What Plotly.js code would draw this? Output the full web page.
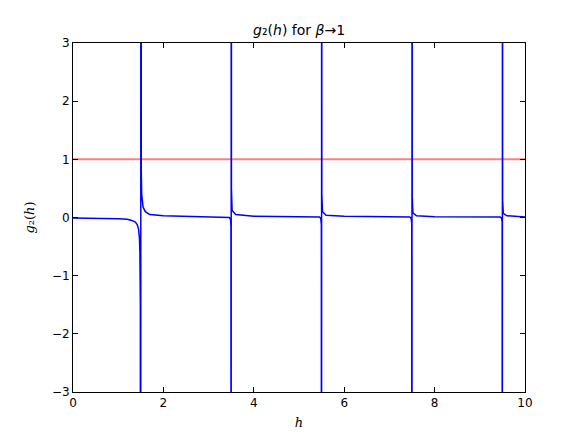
<!DOCTYPE html>
<html>
<head>
<meta charset="utf-8">
<script src="https://cdn.plot.ly/plotly-3.0.1.min.js"></script>
<style>
  body { margin: 0; background: #fff; }
  #plot { width: 583px; height: 436px; }
</style>
</head>
<body>
<div id="plot"></div>
<script>
// g2(h), poles at 1.5, 3.5, 5.5, 7.5, 9.5
var h_vals = [
  0, 0.5, 1.0, 1.2, 1.3, 1.38, 1.42, 1.45, 1.47, 1.48, 1.49, 1.497,
  1.503, 1.51, 1.52, 1.55, 1.6, 1.7, 2.0, 2.5, 3.0, 3.4, 3.46, 3.485, 3.495, 3.499,
  3.501, 3.505, 3.52, 3.6, 4.0, 5.0, 5.45, 5.48, 5.495, 5.499,
  5.501, 5.505, 5.52, 5.6, 6.0, 7.0, 7.45, 7.48, 7.495, 7.499,
  7.501, 7.505, 7.52, 7.6, 8.0, 9.0, 9.45, 9.48, 9.495, 9.499,
  9.501, 9.505, 9.52, 9.6, 10.0
];
var g2_vals = [
  -0.01, -0.01, -0.02, -0.03, -0.05, -0.08, -0.12, -0.2, -0.35, -0.6, -1.5, -50,
  50, 0.8, 0.4, 0.18, 0.1, 0.05, 0.03, 0.02, 0.015, 0.01, 0.0, -0.03, -0.15, -50,
  50, 0.5, 0.12, 0.05, 0.02, 0.015, 0.01, -0.01, -0.12, -50,
  50, 0.4, 0.1, 0.04, 0.02, 0.012, 0.01, -0.01, -0.1, -50,
  50, 0.35, 0.08, 0.03, 0.015, 0.01, 0.008, -0.01, -0.08, -50,
  50, 0.3, 0.07, 0.03, 0.01
];
var ref_h = [0, 10];
var ref_y = [1, 1];

var axisStyle = {
  showline: true, linecolor: '#000', linewidth: 1, mirror: 'ticks',
  ticks: 'inside', ticklen: 5, tickcolor: '#000', showgrid: false, zeroline: false,
  tickfont: { family: 'DejaVu Sans', size: 12, color: '#000' }
};

var data = [
  {
    x: ref_h, y: ref_y, type: 'scatter', mode: 'lines',
    line: { color: 'rgba(255,0,0,0.5)', width: 2 }, hoverinfo: 'skip'
  },
  {
    x: h_vals, y: g2_vals, type: 'scatter', mode: 'lines',
    line: { color: '#0000ff', width: 1.5 }, hoverinfo: 'skip'
  }
];

var layout = {
  width: 583, height: 436,
  margin: { l: 73, r: 58, t: 43, b: 44 },
  paper_bgcolor: '#fff', plot_bgcolor: '#fff',
  showlegend: false,
  title: {
    text: '<i>g</i>₂(<i>h</i>) for <i>β</i>→1',
    font: { family: 'DejaVu Sans', size: 14, color: '#000' },
    x: 0.513, xanchor: 'center', y: 0.92, yanchor: 'bottom'
  }
};
layout.xaxis = Object.assign({}, axisStyle, {
  range: [0, 10], tickvals: [0, 2, 4, 6, 8, 10],
  title: { text: '<i>h</i>', font: { family: 'DejaVu Serif', size: 13, color: '#000' }, standoff: 8 }
});
layout.yaxis = Object.assign({}, axisStyle, {
  range: [-3, 3], tickvals: [-3, -2, -1, 0, 1, 2, 3],
  title: { text: '<i>g</i>₂(<i>h</i>)', font: { family: 'DejaVu Serif', size: 13, color: '#000' }, standoff: 14 }
});

Plotly.newPlot('plot', data, layout, { displayModeBar: false, staticPlot: true });
</script>
</body>
</html>
